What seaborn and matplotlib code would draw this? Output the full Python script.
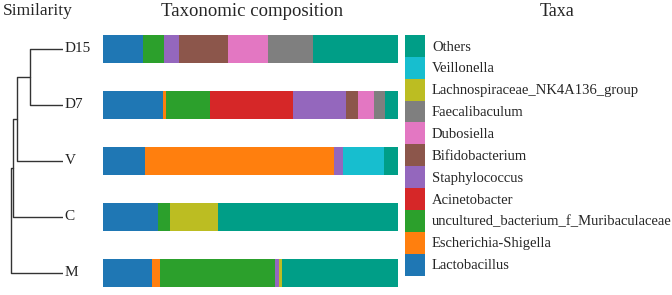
import numpy as np
import pandas as pd
import matplotlib
matplotlib.use('Agg')
import matplotlib.pyplot as plt
import seaborn as sns
from matplotlib.patches import Patch

# samples top to bottom
samples = ['D15', 'D7', 'V', 'C', 'M']
taxa = ['Lactobacillus', 'Escherichia-Shigella', 'uncultured_bacterium_f_Muribaculaceae',
        'Acinetobacter', 'Staphylococcus', 'Bifidobacterium', 'Dubosiella',
        'Faecalibaculum', 'Lachnospiraceae_NK4A136_group', 'Veillonella', 'Others']
colors = ['#1f77b4', '#ff7f0e', '#2ca02c', '#d62728', '#9467bd', '#8c564b',
          '#e377c2', '#7f7f7f', '#bcbd22', '#17becf', '#009e87']

# relative abundance (%), one list per taxon, in sample order
lactobacillus = [13.7, 20.5, 14.1, 18.6, 16.6]
escherichia = [0.0, 0.8, 64.2, 0.0, 2.6]
muribaculaceae = [7.0, 14.9, 0.0, 4.0, 39.2]
acinetobacter = [0.0, 28.2, 0.0, 0.0, 0.0]
staphylococcus = [4.9, 18.1, 3.1, 0.0, 1.1]
bifidobacterium = [16.7, 4.0, 0.0, 0.0, 0.0]
dubosiella = [13.8, 5.4, 0.0, 0.0, 0.0]
faecalibaculum = [15.1, 3.8, 0.0, 0.0, 0.0]
lachnospiraceae = [0.0, 0.0, 0.0, 16.4, 1.2]
veillonella = [0.0, 0.0, 13.9, 0.0, 0.0]
others = [28.8, 4.3, 4.7, 61.0, 39.3]

# clustering: (left, right, distance); leaves numbered 0-4, new nodes from 5
merges = [(0, 1, 0.336), (5, 2, 0.468), (6, 3, 0.509), (7, 4, 0.530)]

df = pd.DataFrame(np.array([lactobacillus, escherichia, muribaculaceae, acinetobacter,
                            staphylococcus, bifidobacterium, dubosiella, faecalibaculum,
                            lachnospiraceae, veillonella, others]).T,
                  index=samples, columns=taxa)
cum = df.cumsum(axis=1)

sns.set_theme(style='white')
plt.rcParams['font.family'] = ['Liberation Serif', 'DejaVu Serif']

W, H = 672, 295
fig = plt.figure(figsize=(W / 100, H / 100), dpi=100)

ax = fig.add_axes([103 / W, 8 / H, 295 / W, 252 / H])
for i in range(len(taxa) - 1, -1, -1):
    sns.barplot(x=cum[taxa[i]].values, y=samples, color=colors[i], orient='h',
                width=0.5, linewidth=0, errorbar=None, ax=ax, saturation=1)
ax.set_xlim(0, 100)
ax.set_ylim(4.25, -0.25)
ax.axis('off')

# dendrogram
axd = fig.add_axes([8 / W, 8 / H, 55 / W, 252 / H])
pos = {i: (float(i), 0.0) for i in range(len(samples))}
for k, (a, b, d) in enumerate(merges):
    ya, xa = pos[a]
    yb, xb = pos[b]
    axd.plot([xa, d, d, xb], [ya, ya, yb, yb], color='#333333', lw=1.0)
    pos[len(samples) + k] = ((ya + yb) / 2, d)
axd.set_xlim(0.56, 0)
axd.set_ylim(4.25, -0.25)
axd.axis('off')
for i, s in enumerate(samples):
    axd.annotate(s, (0, i), xytext=(1, 0), textcoords='offset points',
                 va='center', ha='left', fontsize=11, color='#222222',
                 annotation_clip=False)

fig.text(3 / W, 1 - 11 / H, 'Similarity', fontsize=12.5, va='center', ha='left')
fig.text(252 / W, 1 - 11 / H, 'Taxonomic composition', fontsize=13.5, va='center', ha='center')
fig.text(557 / W, 1 - 11 / H, 'Taxa', fontsize=13, va='center', ha='center')

handles = [Patch(facecolor=c, edgecolor='none') for c in colors][::-1]
fig.legend(handles, taxa[::-1], loc='upper left', bbox_to_anchor=(405 / W, 1 - 35 / H),
           frameon=False, fontsize=10.5, handlelength=1.4, handleheight=1.93,
           labelspacing=0, handletextpad=0.45, borderpad=0, borderaxespad=0)

fig.savefig('out.png', dpi=100)
